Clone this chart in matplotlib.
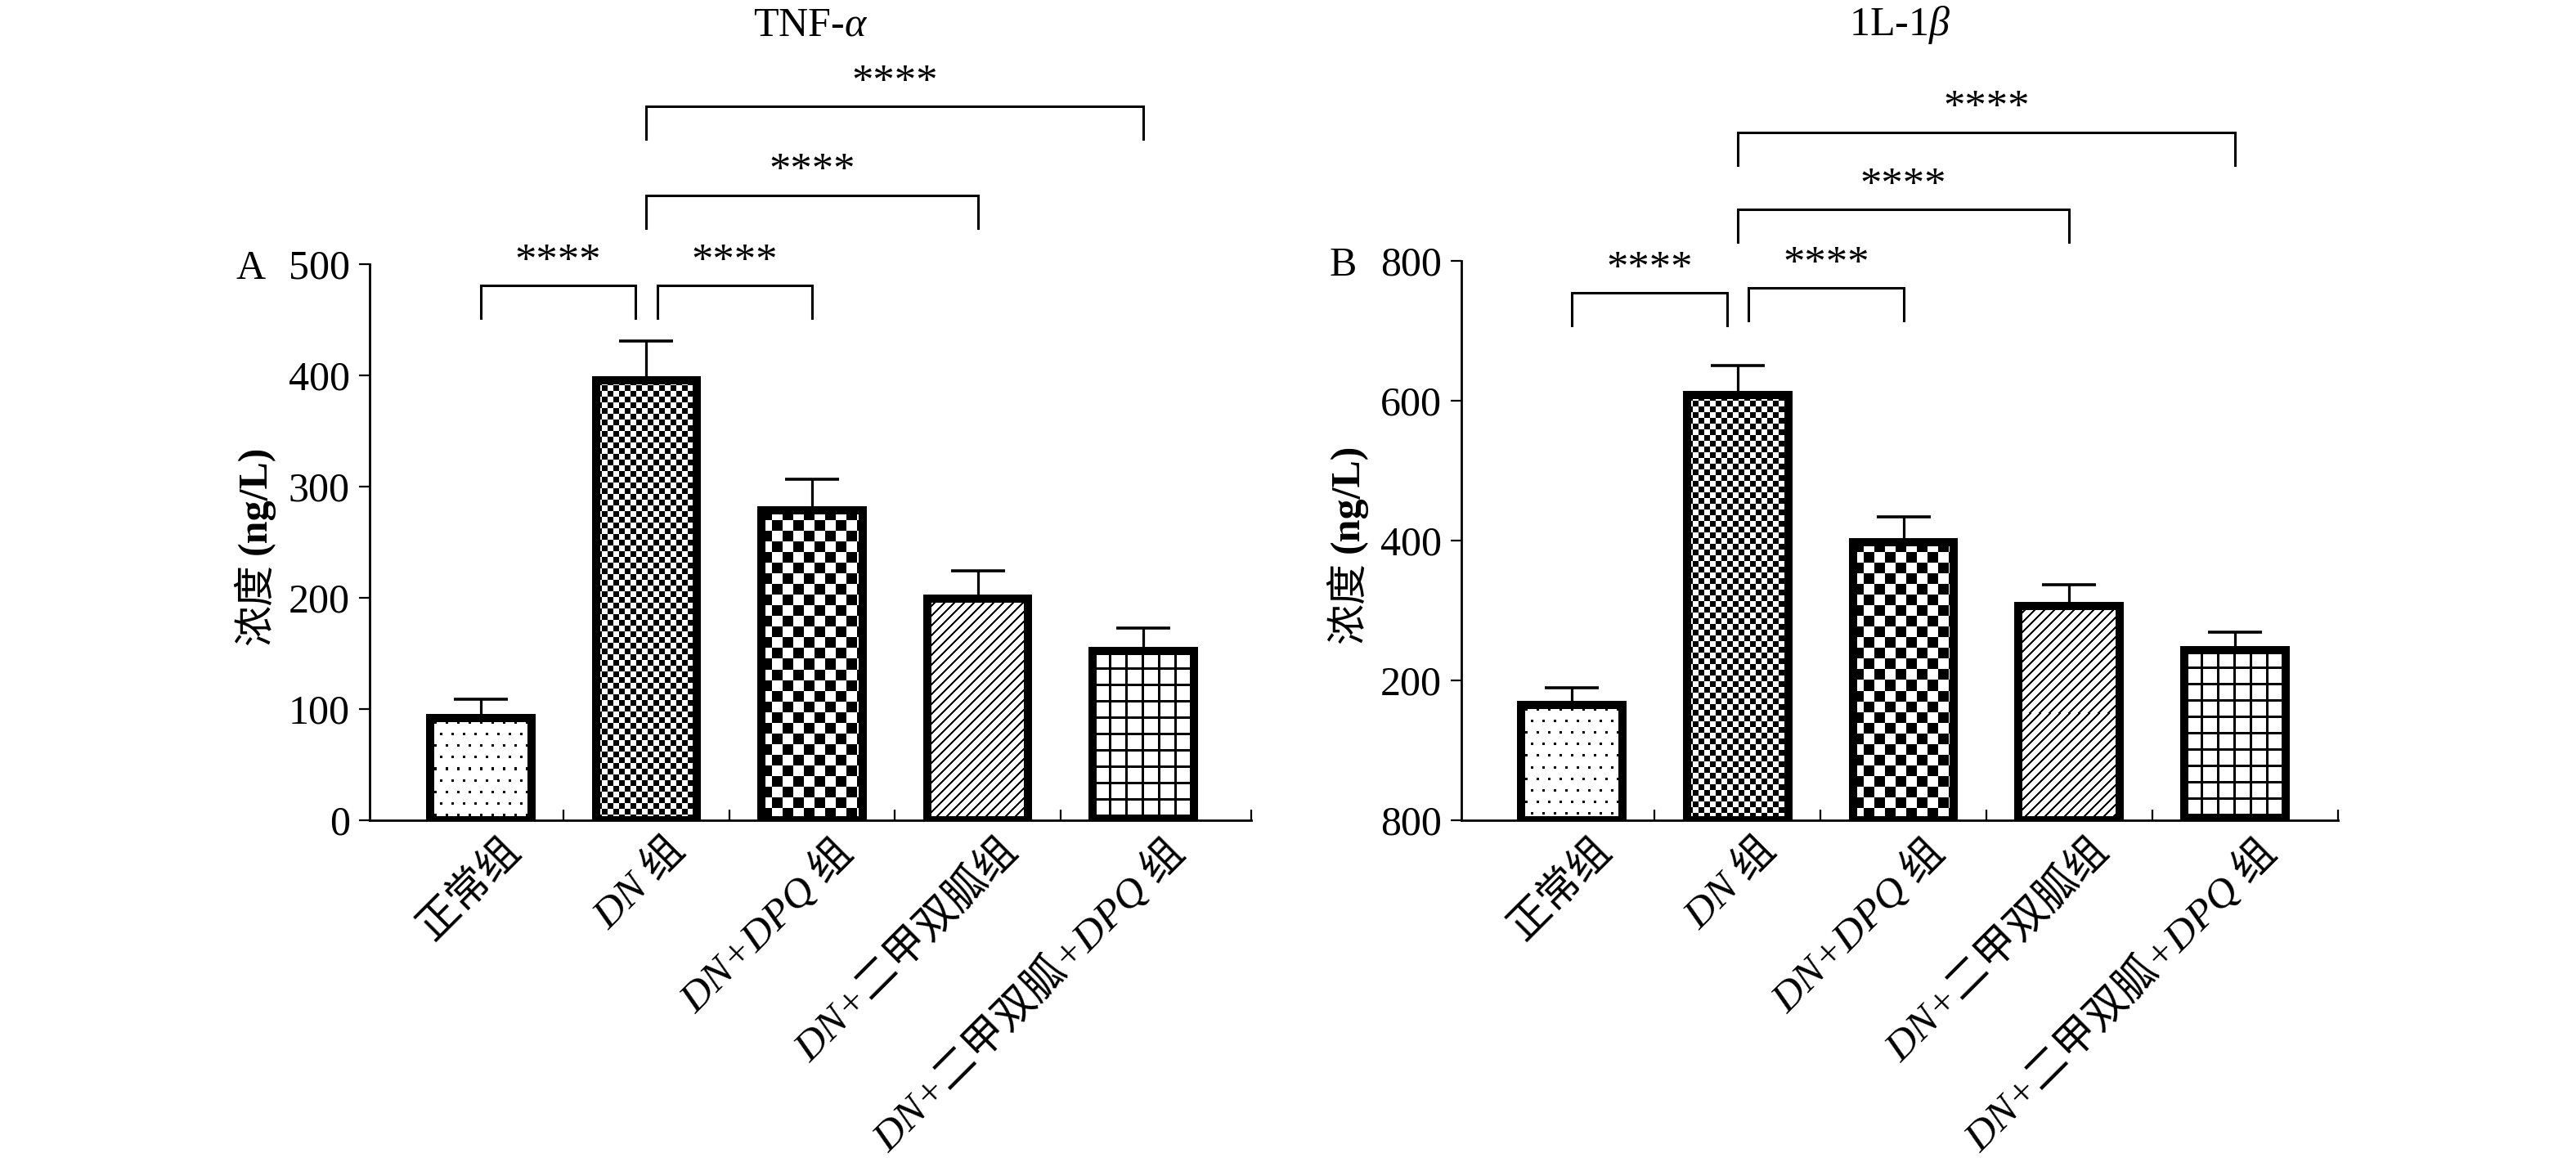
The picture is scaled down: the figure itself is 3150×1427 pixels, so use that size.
import numpy as np
import matplotlib
matplotlib.use('Agg')
import matplotlib.pyplot as plt
from matplotlib.transforms import ScaledTranslation

# ---------------- data ----------------
categories = ['正常组', 'DN 组', 'DN+DPQ 组', 'DN+二甲双胍组', 'DN+二甲双胍+DPQ 组']
tnf_values = [92, 396, 279, 199, 152]
tnf_errors = [17, 35, 28, 25, 21]
il_values = [165, 608, 398, 307, 243]
il_errors = [24, 42, 36, 30, 26]

tnf_yticks = [0, 100, 200, 300, 400, 500]
tnf_yticklabels = ['0', '100', '200', '300', '400', '500']
il_yticks = [0, 200, 400, 600, 800]
il_yticklabels = ['800', '200', '400', '600', '800']

comparisons = [(0, 1), (1, 2), (1, 3), (1, 4)]
comparison_labels = ['****', '****', '****', '****']
tnf_bracket_heights = [481, 481, 562, 642]
il_bracket_heights = [754, 761, 874, 984]

patterns = ['dots', 'fine_checker', 'coarse_checker', 'diagonal', 'grid']

# ---------------- style ----------------
plt.rcParams['font.family'] = ['Liberation Serif', 'Noto Sans CJK SC']
plt.rcParams['mathtext.fontset'] = 'custom'
plt.rcParams['mathtext.rm'] = 'Liberation Serif'
plt.rcParams['mathtext.it'] = 'Liberation Serif:italic'
FS = 36
XFS = 37


def pattern_array(kind, h, w):
    r = np.arange(h)[:, None]
    c = np.arange(w)[None, :]
    if kind == 'dots':
        k = r // 14
        shift = (k % 2) * 7
        black = ((r % 14) >= 5) & ((r % 14) < 8) & (((c + shift) % 14) >= 5) & (((c + shift) % 14) < 8)
    elif kind == 'fine_checker':
        black = ((r // 7 + c // 7) % 2) == 0
    elif kind == 'coarse_checker':
        black = ((r // 13 + c // 13) % 2) == 0
    elif kind == 'diagonal':
        black = ((r + c) % 12) < 3
    else:
        black = ((c % 20) < 3) | ((r % 20) < 3)
    return np.where(black, 0.0, 1.0)


def panel(ax, values, errors, yticks, yticklabels, ylim, xlim, heights, title, letter):
    x = np.arange(len(categories))
    ax.set_xlim(xlim)
    ax.set_ylim(ylim)
    bars = ax.bar(x, values, width=0.61, facecolor='none', edgecolor='black',
                  linewidth=7.2, zorder=3)
    for bar, kind in zip(bars, patterns):
        x0, w, h = bar.get_x(), bar.get_width(), bar.get_height()
        (px0, py0), (px1, py1) = ax.transData.transform([(x0, 0), (x0 + w, h)])
        arr = pattern_array(kind, max(int(round(py1 - py0)), 1), max(int(round(px1 - px0)), 1))
        im = ax.imshow(arr, extent=(x0, x0 + w, 0, h), cmap='gray', vmin=0, vmax=1,
                       interpolation='nearest', aspect='auto', zorder=2)
        im.set_clip_path(bar)
    ax.errorbar(x, values, yerr=[np.zeros(len(values)), errors], fmt='none',
                ecolor='black', elinewidth=2.3, capsize=24, capthick=2.6, zorder=2.5)
    ax.set_xlim(xlim)
    ax.set_ylim(ylim)

    # spines & ticks
    for s in ['top', 'right']:
        ax.spines[s].set_visible(False)
    for s in ['left', 'bottom']:
        ax.spines[s].set_linewidth(2)
    ax.set_yticks(yticks, yticklabels)
    ax.tick_params(axis='y', direction='out', length=9.5, width=1.6, pad=8, labelsize=FS)
    ax.set_xticks(x, categories)
    ax.set_xticks([0.5, 1.5, 2.5, 3.5, xlim[1]], minor=True)
    ax.tick_params(axis='x', which='major', length=0, pad=10, labelsize=XFS)
    ax.tick_params(axis='x', which='minor', direction='in', length=9.5, width=1.6)
    offset = ScaledTranslation(0.25, 0, ax.figure.dpi_scale_trans)
    for lab in ax.get_xticklabels():
        lab.set_rotation(45)
        lab.set_ha('right')
        lab.set_va('top')
        lab.set_rotation_mode('anchor')
        lab.set_style('italic')
        lab.set_fontsize(XFS)
        lab.set_transform(lab.get_transform() + offset)

    # significance brackets
    ax_h_px = ax.get_window_extent().height
    per_px = (ylim[1] - ylim[0]) / ax_h_px
    drop = 40 * per_px
    for i, ((a, b), top, lab) in enumerate(zip(comparisons, heights, comparison_labels)):
        xa, xb = float(a), float(b)
        if i == 0:
            xb -= 0.065
        if i == 1:
            xa += 0.065
        ax.plot([xa, xa, xb, xb], [top - drop, top, top, top - drop], color='black',
                linewidth=2.2, clip_on=False, solid_joinstyle='miter', zorder=5)
        ax.annotate(lab, xy=((xa + xb) / 2, top), xytext=(0, 11), textcoords='offset points',
                    ha='center', va='baseline', fontsize=38, annotation_clip=False)

    # y label (two parts)
    ax.text(-0.129, 0.462, '浓度', transform=ax.transAxes, rotation=90, ha='center',
            va='top', fontsize=FS, family=['Noto Sans CJK SC'])
    ax.text(-0.129, 0.478, '(ng/L)', transform=ax.transAxes, rotation=90, ha='center',
            va='bottom', fontsize=FS, fontweight='bold')
    ax.text(-0.135, 1.0, letter, transform=ax.transAxes, ha='center',
            va='center_baseline', fontsize=FS)
    pos = ax.get_position()
    ax.figure.text((pos.x0 + pos.x1) / 2, 1 - 31 / 1427, title, ha='center', va='center',
                   fontsize=FS)


fig = plt.figure(figsize=(31.5, 14.27), dpi=100)
axA = fig.add_axes([0.1435, 0.2971, 0.3422, 0.4765])
axB = fig.add_axes([0.5673, 0.2971, 0.3403, 0.4793])

panel(axA, tnf_values, tnf_errors, tnf_yticks, tnf_yticklabels, (0, 500), (-0.67, 4.65),
      tnf_bracket_heights, r'TNF-$\alpha$', 'A')
panel(axB, il_values, il_errors, il_yticks, il_yticklabels, (0, 800), (-0.665, 4.62),
      il_bracket_heights, r'1L-1$\beta$', 'B')

fig.savefig('out.png', dpi=100, facecolor='white')
